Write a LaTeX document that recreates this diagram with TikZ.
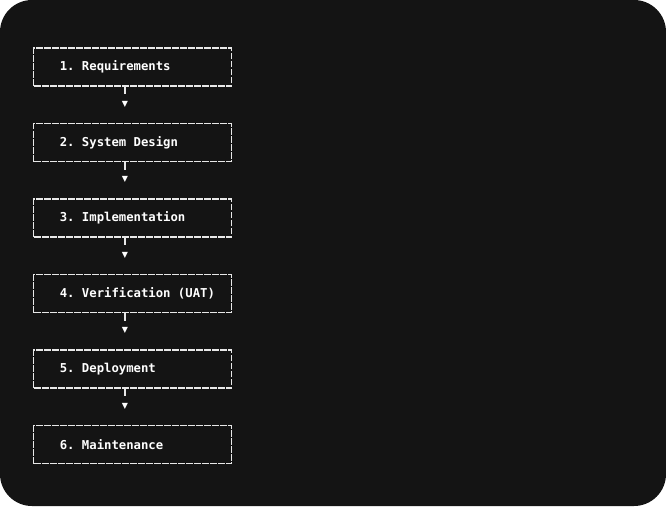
\documentclass[tikz,border=0pt]{standalone}
\usepackage{fontspec}
\setmonofont{DejaVu Sans Mono}
\newfontfamily\symfont{DejaVu Sans}
\usetikzlibrary{positioning}
\definecolor{bgdark}{HTML}{141414}
\definecolor{framegray}{HTML}{E8E8E8}
\begin{document}
\begin{tikzpicture}[x=0.75pt, y=-0.75pt, node distance=0pt]
    % Styles
    \tikzset{phase/.style={rectangle, draw=framegray, dash pattern=on 5pt off 1pt, line width=0.8pt,
        minimum width=148pt, minimum height=28.5pt, inner sep=0pt, text=white, font=\ttfamily\bfseries\fontsize{9.2}{11}\selectfont},
        tip/.style={text=white, font=\symfont\fontsize{6}{6}\selectfont, inner sep=0pt},
        link/.style={draw=framegray, line width=0.8pt, shorten >=5pt}}
    % Background
    \fill[white] (0,0) rectangle (666,506);
    \fill[bgdark, rounded corners=24pt] (0,0) rectangle (666,506);
    % Steps
    \foreach \i/\txt in {1/1. Requirements, 2/2. System Design, 3/3. Implementation,
        4/4. Verification (UAT), 5/5. Deployment, 6/6. Maintenance} {
        \node[phase] (s\i) at (132.5, {67 + (\i-1)*75.5}) {\makebox[109pt][l]{\txt}};
    }
    % Arrows
    \foreach \i in {1,...,5} {
        \node[tip] (t\i) at (125, {104 + (\i-1)*75.5}) {▼};
        \draw[link] (s\i.south -| t\i) -- (t\i.north);
    }
\end{tikzpicture}
\end{document}
